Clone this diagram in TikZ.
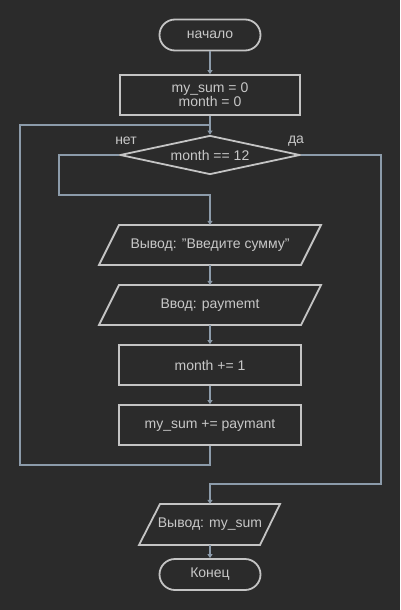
\documentclass[tikz,border=0pt]{standalone}
\usepackage{fontspec}
\setmainfont{Liberation Sans}
\usetikzlibrary{arrows.meta,shapes.geometric,calc}
\definecolor{bg}{HTML}{2B2B2B}
\definecolor{shp}{HTML}{C4C4C4}
\definecolor{txt}{HTML}{C8C8C8}
\definecolor{cn}{HTML}{8C9BAA}
\begin{document}
\begin{tikzpicture}[x=1pt,y=-1pt,
  every node/.style={font=\fontsize{14}{15}\selectfont, text=txt},
  terminal/.style={draw=shp, line width=1.8pt, rectangle, rounded corners=15.5pt, minimum width=101pt, minimum height=31pt, inner sep=0pt},
  procbox/.style={draw=shp, line width=1.8pt, rectangle, minimum width=180pt, minimum height=40pt, inner sep=0pt, align=center},
  ioholder/.style={inner sep=0pt, minimum height=40pt},
  iopoly/.style={draw=shp, line width=1.8pt, line join=miter},
  decis/.style={draw=shp, line width=1.8pt, diamond, aspect=4.6, minimum width=180pt, minimum height=39pt, inner sep=0pt},
  conn/.style={draw=cn, line width=1.6pt},
  arr/.style={conn, -{Triangle[length=4pt,width=5pt]}},
  lbl/.style={inner sep=0pt}
]
\fill[bg] (0,0) rectangle (400,610);
\useasboundingbox (0,0) rectangle (400,610);

% nodes
\node[terminal] (start) at (210,35) {начало};
\node[procbox] (init) at (210,95) {my\_sum = 0\\[-1pt]month = 0};
\node[decis] (d) at (210,155) {month == 12};
\node[lbl] (no) at (126,141) {нет};
\node[lbl] (yes) at (296,141) {да};

\node[ioholder, minimum width=202pt] (p1) at (210,245) {Вывод: "Введите сумму"};
\draw[iopoly] (99,265) -- (119,225) -- (321,225) -- (301,265) -- cycle;
\node[ioholder, minimum width=202pt] (p2) at (210,305) {Ввод: paymemt};
\draw[iopoly] (99,325) -- (119,285) -- (321,285) -- (301,325) -- cycle;

\node[procbox, minimum width=182pt] (inc) at (210,365) {month += 1};
\node[procbox, minimum width=182pt] (acc) at (210,425) {my\_sum += paymant};

\node[ioholder, minimum width=120pt, minimum height=41pt] (out) at (210,524.5) {Вывод: my\_sum};
\draw[iopoly] (139,545) -- (160,504) -- (280,504) -- (260,545) -- cycle;
\node[terminal] (end) at (210,574.5) {Конец};

% connectors
\draw[arr] (start.south) -- (init.north);
\draw[arr] (init.south) -- (d.north);
\draw[conn] (acc.south) -- ++(0,19) -| (20,125) -- (210,125);
\draw[arr] (d.west) -- ++(-60,0) |- ([yshift=30pt]p1.north) -- (p1.north);
\draw[arr] (p1.south) -- (p2.north);
\draw[arr] (p2.south) -- (inc.north);
\draw[arr] (inc.south) -- (acc.north);
\draw[arr] (d.east) -- ++(80,0) |- ([yshift=20pt]out.north) -- (out.north);
\draw[arr] (out.south) -- (end.north);
\end{tikzpicture}
\end{document}
